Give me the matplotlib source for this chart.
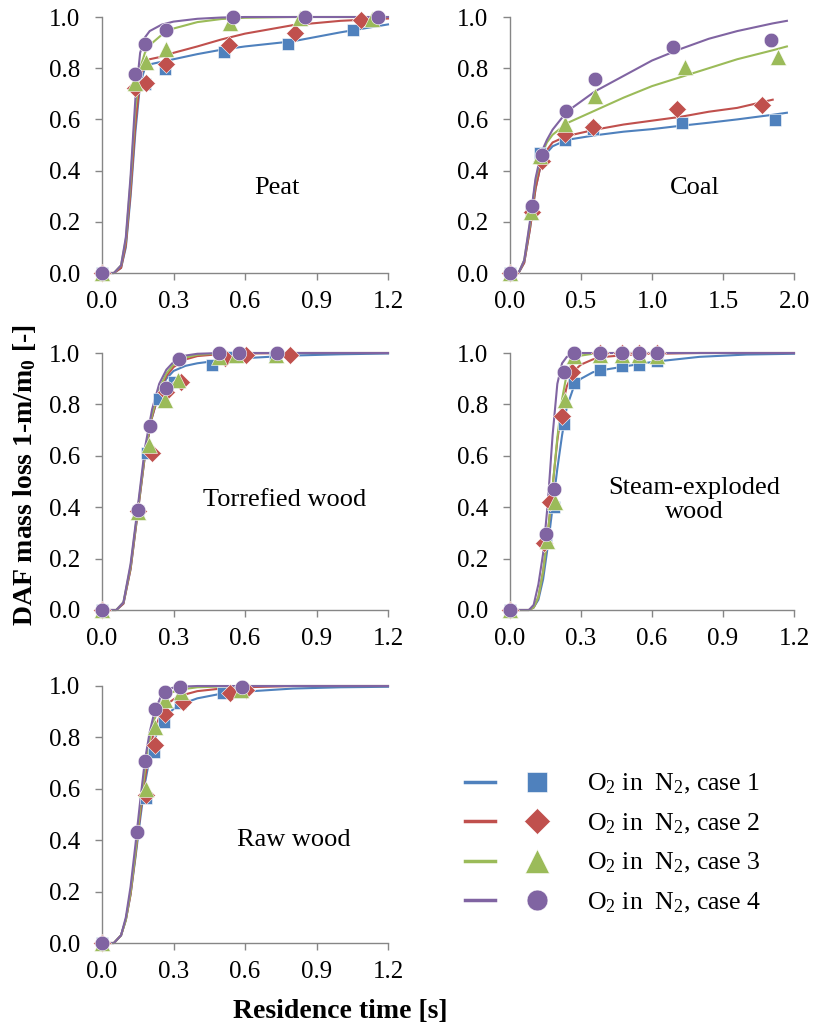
import matplotlib
matplotlib.use("Agg")
import matplotlib.pyplot as plt
from matplotlib.lines import Line2D
from matplotlib.legend_handler import HandlerTuple

plt.rcParams["font.family"] = ["Liberation Serif", "DejaVu Serif"]
plt.rcParams["mathtext.default"] = "regular"
plt.rcParams["font.size"] = 18

COLORS  = ["#4F81BD", "#C0504D", "#9BBB59", "#8064A2"]
MARKERS = ["s", "D", "^", "o"]
MSIZES  = [8.5, 9, 11, 10.5]
LEG_MSIZES = [14, 13.5, 17, 15]
LABELS  = [r"O$_2$ in  N$_2$, case %d" % i for i in range(1, 5)]
GRAY = "#868686"

# ---- Peat ----
PEAT_X = [[0, 0.18, 0.265, 0.51, 0.78, 1.055],
          [0, 0.137, 0.183, 0.268, 0.532, 0.81, 1.086],
          [0, 0.137, 0.183, 0.267, 0.536, 0.83, 1.131],
          [0, 0.14, 0.179, 0.27, 0.55, 0.851, 1.159]]
PEAT_Y = [[0, 0.74, 0.795, 0.865, 0.893, 0.948],
          [0, 0.724, 0.743, 0.818, 0.89, 0.939, 0.99],
          [0, 0.743, 0.824, 0.876, 0.975, 0.998, 0.992],
          [0, 0.776, 0.896, 0.948, 1.0, 1.0, 1.0]]
PEAT_FIT_T = [0, 0.05, 0.08, 0.10, 0.12, 0.14, 0.16, 0.18, 0.20, 0.25, 0.30,
              0.40, 0.50, 0.60, 0.80, 1.00, 1.20]
PEAT_FIT = [[0, 0, 0.02, 0.10, 0.30, 0.55, 0.74, 0.80, 0.815, 0.825, 0.835,
             0.855, 0.872, 0.885, 0.905, 0.94, 0.971],
            [0, 0, 0.02, 0.11, 0.32, 0.58, 0.76, 0.82, 0.835, 0.845, 0.86,
             0.885, 0.912, 0.935, 0.968, 0.985, 0.994],
            [0, 0, 0.03, 0.13, 0.36, 0.64, 0.80, 0.86, 0.89, 0.93, 0.955,
             0.98, 0.992, 0.997, 1.0, 1.0, 1.0],
            [0, 0, 0.03, 0.14, 0.38, 0.68, 0.86, 0.92, 0.945, 0.97, 0.982,
             0.993, 0.998, 1.0, 1.0, 1.0, 1.0]]

# ---- Coal ----
COAL_X = [[0, 0.150, 0.209, 0.385, 0.588, 1.21, 1.866],
          [0, 0.155, 0.225, 0.385, 0.588, 1.175, 1.773],
          [0, 0.150, 0.213, 0.389, 0.596, 1.233, 1.89],
          [0, 0.157, 0.227, 0.396, 0.596, 1.151, 1.838]]
COAL_Y = [[0, 0.232, 0.467, 0.519, 0.561, 0.587, 0.596],
          [0, 0.24, 0.439, 0.542, 0.570, 0.639, 0.658],
          [0, 0.24, 0.458, 0.581, 0.690, 0.806, 0.845],
          [0, 0.262, 0.462, 0.632, 0.757, 0.881, 0.912]]
COAL_FIT_T = [0, 0.06, 0.10, 0.14, 0.18, 0.22, 0.26, 0.30, 0.40, 0.60, 0.80,
              1.00, 1.20, 1.40, 1.60, 1.85, 1.95]
COAL_FIT = [[0, 0, 0.04, 0.17, 0.33, 0.43, 0.47, 0.495, 0.52, 0.538, 0.552,
             0.562, 0.575, 0.587, 0.60, 0.618, 0.626],
            [0, 0, 0.04, 0.17, 0.33, 0.43, 0.48, 0.51, 0.535, 0.56, 0.58,
             0.595, 0.61, 0.63, 0.645, 0.677],
            [0, 0, 0.05, 0.19, 0.36, 0.46, 0.51, 0.54, 0.585, 0.635, 0.685,
             0.73, 0.765, 0.80, 0.835, 0.87, 0.885],
            [0, 0, 0.05, 0.20, 0.37, 0.47, 0.52, 0.56, 0.63, 0.71, 0.77,
             0.83, 0.875, 0.915, 0.945, 0.975, 0.985]]

# ---- Torrefied wood ----
TORR_X = [[0, 0.15, 0.19, 0.24, 0.30, 0.46, 0.55, 0.725],
          [0, 0.15, 0.21, 0.27, 0.33, 0.515, 0.605, 0.79],
          [0, 0.15, 0.197, 0.263, 0.319, 0.49, 0.564, 0.732],
          [0, 0.152, 0.20, 0.267, 0.323, 0.491, 0.574, 0.735]]
TORR_Y = [[0, 0.385, 0.61, 0.822, 0.887, 0.952, 0.984, 0.984],
          [0, 0.385, 0.61, 0.848, 0.887, 0.982, 0.991, 0.991],
          [0, 0.38, 0.641, 0.816, 0.896, 0.985, 0.991, 0.991],
          [0, 0.39, 0.715, 0.865, 0.978, 1.0, 1.0, 1.0]]
TORR_FIT_T = [0, 0.06, 0.09, 0.12, 0.15, 0.18, 0.21, 0.24, 0.27, 0.30, 0.35,
              0.40, 0.50, 0.60, 0.80, 1.00, 1.20]
TORR_FIT = [[0, 0, 0.025, 0.16, 0.38, 0.60, 0.75, 0.845, 0.90, 0.93, 0.95,
             0.96, 0.972, 0.98, 0.99, 0.995, 0.998],
            [0, 0, 0.025, 0.16, 0.38, 0.60, 0.75, 0.85, 0.91, 0.945, 0.975,
             0.988, 0.996, 0.998, 1, 1, 1],
            [0, 0, 0.03, 0.17, 0.39, 0.61, 0.76, 0.86, 0.92, 0.955, 0.982,
             0.993, 0.999, 1, 1, 1, 1],
            [0, 0, 0.03, 0.18, 0.40, 0.63, 0.78, 0.88, 0.935, 0.965, 0.99,
             0.997, 1, 1, 1, 1, 1]]

# ---- Steam-exploded wood ----
STEAM_X = [[0, 0.154, 0.188, 0.227, 0.269, 0.379, 0.474, 0.547, 0.622],
           [0, 0.142, 0.171, 0.22, 0.262, 0.382, 0.474, 0.547, 0.622],
           [0, 0.157, 0.192, 0.234, 0.272, 0.379, 0.474, 0.547, 0.622],
           [0, 0.152, 0.188, 0.227, 0.269, 0.379, 0.474, 0.547, 0.622]]
STEAM_Y = [[0, 0.264, 0.401, 0.724, 0.885, 0.932, 0.951, 0.954, 0.967],
           [0, 0.26, 0.42, 0.755, 0.928, 1.0, 1.0, 1.0, 1.0],
           [0, 0.27, 0.42, 0.818, 0.99, 0.993, 0.993, 0.993, 0.99],
           [0, 0.297, 0.469, 0.928, 1.0, 1.0, 1.0, 1.0, 1.0]]
STEAM_FIT_T = [0, 0.08, 0.10, 0.12, 0.14, 0.16, 0.18, 0.20, 0.22, 0.24, 0.27,
               0.30, 0.35, 0.40, 0.50, 0.60, 0.80, 1.00, 1.20]
STEAM_FIT = [[0, 0, 0.01, 0.04, 0.12, 0.25, 0.40, 0.55, 0.68, 0.79, 0.87,
              0.90, 0.925, 0.935, 0.95, 0.965, 0.985, 0.994, 0.997],
             [0, 0, 0.01, 0.05, 0.15, 0.30, 0.48, 0.66, 0.79, 0.87, 0.93,
              0.955, 0.975, 0.985, 0.993, 0.997, 1, 1, 1],
             [0, 0, 0.01, 0.05, 0.15, 0.30, 0.48, 0.67, 0.82, 0.92, 0.975,
              0.99, 0.997, 1, 1, 1, 1, 1, 1],
             [0, 0, 0.02, 0.10, 0.22, 0.42, 0.68, 0.88, 0.96, 0.985, 0.996,
              1, 1, 1, 1, 1, 1, 1, 1]]

# ---- Raw wood ----
RAW_X = [[0, 0.183, 0.218, 0.26, 0.326, 0.508, 0.578],
         [0, 0.183, 0.224, 0.266, 0.34, 0.536, 0.606],
         [0, 0.186, 0.224, 0.263, 0.333, 0.585],
         [0, 0.148, 0.182, 0.221, 0.263, 0.329, 0.589]]
RAW_Y = [[0, 0.563, 0.745, 0.861, 0.935, 0.971, 0.978],
         [0, 0.576, 0.771, 0.891, 0.939, 0.974, 0.984],
         [0, 0.598, 0.842, 0.945, 0.978, 0.984],
         [0, 0.431, 0.709, 0.909, 0.978, 0.997, 0.997]]
RAW_FIT_T = [0, 0.05, 0.08, 0.10, 0.12, 0.14, 0.16, 0.18, 0.20, 0.22, 0.25,
             0.28, 0.32, 0.40, 0.50, 0.60, 0.80, 1.00, 1.20]
RAW_FIT = [[0, 0, 0.03, 0.09, 0.19, 0.33, 0.48, 0.62, 0.72, 0.79, 0.86,
            0.895, 0.925, 0.952, 0.97, 0.978, 0.99, 0.995, 0.997],
           [0, 0, 0.03, 0.09, 0.19, 0.34, 0.50, 0.64, 0.75, 0.83, 0.90,
            0.935, 0.96, 0.98, 0.99, 0.995, 1, 1, 1],
           [0, 0, 0.03, 0.09, 0.20, 0.35, 0.52, 0.67, 0.79, 0.87, 0.94,
            0.97, 0.985, 0.995, 0.998, 1, 1, 1, 1],
           [0, 0, 0.03, 0.10, 0.22, 0.38, 0.55, 0.71, 0.82, 0.90, 0.965,
            0.99, 0.997, 1, 1, 1, 1, 1, 1]]

W, H = 814, 1029
fig = plt.figure(figsize=(W / 100, H / 100), dpi=100)


def panel(px_left, px_top, px_w, px_h, xs, ys, fit_t, fits, xmax, xstep,
          label, lx, ly):
    ax = fig.add_axes([px_left / W, 1 - (px_top + px_h) / H, px_w / W, px_h / H])
    for i in range(4):
        ax.plot(fit_t[:len(fits[i])], fits[i], color=COLORS[i], lw=1.5,
                zorder=2, clip_on=False)
    for i in range(4):
        ax.plot(xs[i], ys[i], ls="none", marker=MARKERS[i], ms=MSIZES[i],
                color=COLORS[i], mec="white", mew=0.4, zorder=3, clip_on=False)
    ax.set_xlim(0, xmax)
    ax.set_ylim(0, 1.0)
    n = int(round(xmax / xstep))
    ax.set_xticks([xstep * k for k in range(n + 1)])
    ax.set_xticklabels(["%.1f" % (xstep * k) for k in range(n + 1)])
    ax.set_yticks([0.2 * k for k in range(6)])
    ax.set_yticklabels(["%.1f" % (0.2 * k) for k in range(6)])
    for s in ["top", "right"]:
        ax.spines[s].set_visible(False)
    for s in ["left", "bottom"]:
        ax.spines[s].set_color(GRAY)
        ax.spines[s].set_linewidth(1.0)
    ax.tick_params(direction="out", length=5, width=1.0, color=GRAY,
                   labelsize=18)
    ax.tick_params(axis="x", pad=8)
    ax.tick_params(axis="y", pad=11)
    ax.text(lx, ly, label, transform=ax.transAxes, ha="center", va="center",
            fontsize=19, linespacing=1.1)
    return ax


panel(102, 17, 286, 256, PEAT_X, PEAT_Y, PEAT_FIT_T, PEAT_FIT, 1.2, 0.3,
      "Peat", 0.612, 0.332)
panel(510, 17, 284, 256, COAL_X, COAL_Y, COAL_FIT_T, COAL_FIT, 2.0, 0.5,
      "Coal", 0.651, 0.332)
panel(102, 353, 286, 257, TORR_X, TORR_Y, TORR_FIT_T, TORR_FIT, 1.2, 0.3,
      "Torrefied wood", 0.64, 0.428)
panel(510, 353, 284, 257, STEAM_X, STEAM_Y, STEAM_FIT_T, STEAM_FIT, 1.2, 0.3,
      "Steam-exploded\nwood", 0.648, 0.428)
panel(102, 686, 286, 257, RAW_X, RAW_Y, RAW_FIT_T, RAW_FIT, 1.2, 0.3,
      "Raw wood", 0.67, 0.40)

fig.text(25 / W, 1 - 475 / H, r"DAF mass loss 1-m/m$_0$ [-]", rotation=90,
         ha="center", va="center", fontsize=20, fontweight="bold")
fig.text(340 / W, 1 - 1012 / H, "Residence time [s]", ha="center",
         va="center", fontsize=20, fontweight="bold")

handles = []
for i in range(4):
    ln = Line2D([], [], color=COLORS[i], lw=2.5)
    mk = Line2D([], [], ls="none", marker=MARKERS[i], ms=LEG_MSIZES[i],
                color=COLORS[i], mec="white", mew=0.4)
    handles.append((ln, mk))
fig.legend(handles, LABELS, handler_map={tuple: HandlerTuple(ndivide=None, pad=1.08)},
           loc="upper left", bbox_to_anchor=(465 / W, 1 - 772 / H),
           frameon=False, fontsize=18.5, handlelength=3.4, handletextpad=1.35,
           labelspacing=0.6, borderpad=0, borderaxespad=0)

fig.savefig("out.png", dpi=100)
